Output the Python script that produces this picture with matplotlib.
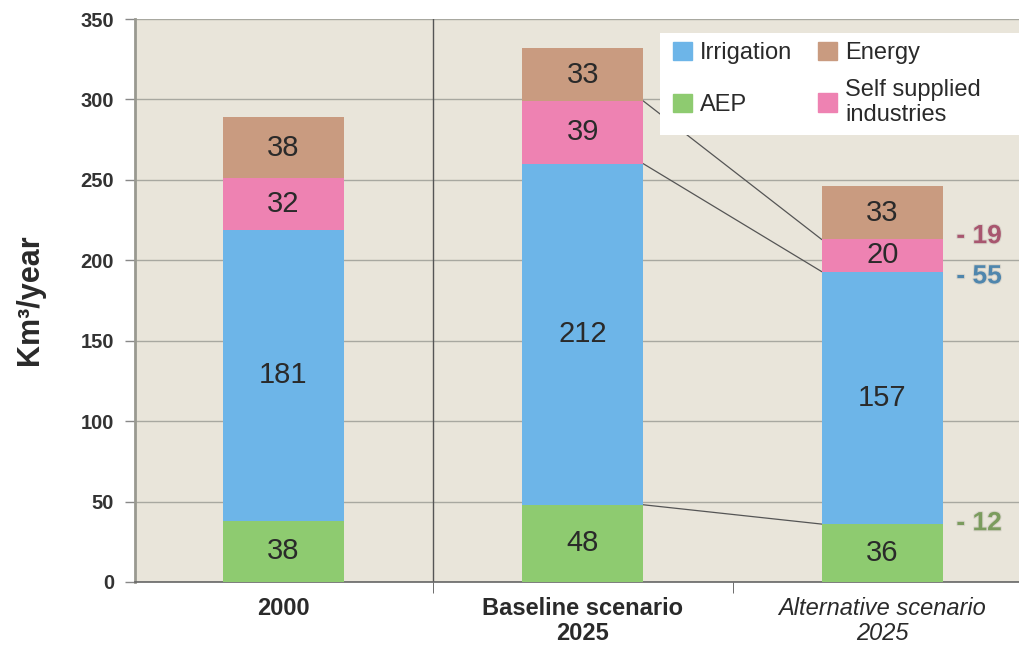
import matplotlib
matplotlib.use("Agg")
import matplotlib.pyplot as plt
import matplotlib.patheffects as pe
from matplotlib.patches import Patch, Rectangle
import numpy as np

plt.rcParams['font.family'] = ['Liberation Sans', 'DejaVu Sans']

categories = ["2000", "Baseline scenario\n2025", "Alternative scenario\n2025"]
aep = [38, 48, 36]
irrigation = [181, 212, 157]
industries = [32, 39, 20]
energy = [38, 33, 33]
diff_labels = ["- 19", "- 55", "- 12"]
yticks = [0, 50, 100, 150, 200, 250, 300, 350]

c_aep = "#8ecb70"
c_irr = "#6db5e8"
c_ind = "#ee82b2"
c_en = "#c99b80"
bg = "#e9e5da"

fig = plt.figure(figsize=(10.2, 6.45), dpi=100)
ax = fig.add_axes([0.1324, 0.0977, 0.8676, 0.8728])
ax.set_facecolor(bg)

x = np.arange(len(categories))
w = 0.405
series = [(aep, c_aep), (irrigation, c_irr), (industries, c_ind), (energy, c_en)]
bottom = np.zeros(len(categories))
bottoms = []
for vals, col in series:
    vals = np.array(vals, dtype=float)
    ax.bar(x, vals, w, bottom=bottom, color=col, zorder=3, linewidth=0)
    for xi, b, v in zip(x, bottom, vals):
        ax.text(xi, b + v / 2, f"{int(v)}", ha="center", va="center",
                fontsize=21, color="#2a2a2a", zorder=4)
    bottoms.append(bottom.copy())
    bottom = bottom + vals

ax.set_xlim(-0.495, 2.46)
ax.set_ylim(0, 350)
ax.set_yticks(yticks)
ax.set_yticklabels([str(t) for t in yticks], fontsize=14.5, fontweight="bold", color="#333333")
ax.yaxis.grid(True, color="#a8a8a0", linewidth=1, zorder=1)
ax.set_axisbelow(True)

ax.set_xticks(x)
ax.set_xticklabels(["", "", ""])
ax.tick_params(axis="x", length=0)
ax.set_xticks([0.5, 1.5], minor=True)
ax.tick_params(axis="x", which="minor", length=8, color="#555555", direction="out")
ax.tick_params(axis="y", length=7, color="#888888", width=1, pad=8)

xt = ax.get_xaxis_transform()
ax.text(0, -0.027, categories[0], transform=xt, ha="center", va="top",
        fontsize=17, fontweight="bold", color="#2a2a2a")
ax.text(1, -0.027, categories[1], transform=xt, ha="center",
        va="top", fontsize=17, fontweight="bold", color="#2a2a2a", linespacing=1.1)
ax.text(2, -0.027, categories[2], transform=xt, ha="center",
        va="top", fontsize=17, fontstyle="italic", color="#2a2a2a", linespacing=1.1)

ax.axvline(0.5, color="#555555", linewidth=1, zorder=2)

for s in ["top", "right"]:
    ax.spines[s].set_visible(False)
ax.spines["left"].set_color("#999990")
ax.spines["left"].set_linewidth(2)
ax.spines["bottom"].set_color("#666666")
ax.spines["bottom"].set_linewidth(1.2)

fig.text(0.029, 0.535, "Km³/year", rotation=90, ha="center", va="center",
         fontsize=22, fontweight="bold", color="#2a2a2a")

# connector lines from baseline bar to alternative bar
b_ind = bottoms[2]
x0 = x[1] + w / 2
x1 = x[2] - w / 2
ax.plot([x0, x1], [b_ind[1] + industries[1], b_ind[2] + industries[2]], color="#555555", lw=0.9, zorder=2)
ax.plot([x0, x1], [b_ind[1], b_ind[2]], color="#555555", lw=0.9, zorder=2)
ax.plot([x0, x1], [aep[1], aep[2]], color="#555555", lw=0.9, zorder=2)

# difference labels
xr = x[2] + w / 2 + 0.045
eff = [pe.withStroke(linewidth=1.5, foreground="#d8d4ca")]
ax.text(xr, b_ind[2] + industries[2] + 2, diff_labels[0], ha="left", va="center", fontsize=19,
        fontweight="bold", color="#a8566f", zorder=4, path_effects=eff)
ax.text(xr, b_ind[2] - 3, diff_labels[1], ha="left", va="center", fontsize=19,
        fontweight="bold", color="#4f86ad", zorder=4, path_effects=eff)
ax.text(xr, aep[2] + 0.5, diff_labels[2], ha="left", va="center", fontsize=19,
        fontweight="bold", color="#7b9c5e", zorder=4, path_effects=eff)

# legend: white box with two independent columns
ax.add_patch(Rectangle((0.593, 0.794), 0.42, 0.181, transform=ax.transAxes,
                       facecolor="white", edgecolor="none", zorder=5, clip_on=False))
common = dict(fontsize=17, frameon=False, handlelength=0.8, handleheight=0.8,
              handletextpad=0.35, borderpad=0, borderaxespad=0, loc="upper left")
leg1 = ax.legend([Patch(color=c_irr), Patch(color=c_aep)], ["Irrigation", "AEP"],
                 bbox_to_anchor=(0.608, 0.959), labelspacing=1.25, **common)
leg1.set_zorder(6)
ax.add_artist(leg1)
leg2 = ax.legend([Patch(color=c_en), Patch(color=c_ind)], ["Energy", "Self supplied\nindustries"],
                 bbox_to_anchor=(0.772, 0.959), labelspacing=0.6, **common)
leg2.set_zorder(6)
for lg in (leg1, leg2):
    for t in lg.get_texts():
        t.set_color("#2a2a2a")

fig.savefig("out.png", dpi=100, facecolor="white")
